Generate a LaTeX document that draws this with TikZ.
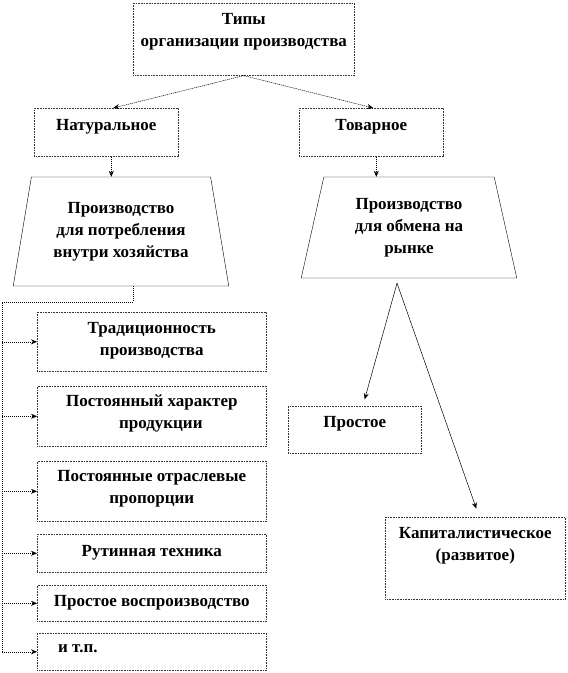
\documentclass[tikz,border=0pt]{standalone}
\usepackage{fontspec}
\setmainfont{Liberation Serif}
\usetikzlibrary{arrows.meta,positioning,calc,shapes.geometric}

\begin{document}
\begin{tikzpicture}[x=1pt, y=-1pt,
  every node/.style={font=\bfseries\fontsize{17}{22}\selectfont},
  frame/.style={draw=black!80, line width=0.6pt, dash pattern=on 1pt off 0.6pt,
    inner sep=0pt, anchor=north west},
  lbl/.style={align=center, inner sep=0pt},
  trap/.style={draw, thin, trapezium, trapezium stretches=true, align=center},
  link/.style={line width=0.5pt, dash pattern=on 1.2pt off 0.8pt,
    -{Stealth[length=6pt,width=5pt]}},
  tree/.style={line width=0.5pt, -{Stealth[length=6pt,width=5pt]}}]
  \useasboundingbox (0,0) rectangle (568,673);
  % top level
  \node[frame, minimum width=221pt, minimum height=72pt] (typy) at (133,3) {};
  \node[lbl, below=10pt of typy.north] (typy-t) {Типы\\организации производства};
  \node[frame, minimum width=144pt, minimum height=48pt] (nat) at (34,108) {};
  \node[lbl, below=11pt of nat.north] (nat-t) {Натуральное};
  \node[frame, minimum width=144pt, minimum height=48pt] (tov) at (299,108) {};
  \node[lbl, below=11pt of tov.north] (tov-t) {Товарное};
  \draw[link] (typy.south) -- ([xshift=7pt]nat.north);
  \draw[link] (typy.south) -- ([xshift=2pt]tov.north);
  % trapeziums
  \node[trap, minimum width=216pt, minimum height=109pt, trapezium angle=77.6]
    (potreb) at (121,231.5) {Производство\\для потребления\\внутри хозяйства};
  \node[trap, minimum width=216pt, minimum height=101pt, trapezium angle=76.9]
    (obmen) at (409,227.5) {Производство\\для обмена на\\рынке};
  \draw[link] ([xshift=5pt]nat.south) -- ([xshift=5pt]nat.south |- potreb.north);
  \draw[link] ([xshift=5pt]tov.south) -- ([xshift=5pt]tov.south |- obmen.north);
  % features of the natural economy
  \node[frame, minimum width=229pt, minimum height=59pt] (trad) at (37,312) {};
  \node[lbl, below=10pt of trad.north] (trad-t) {Традиционность\\производства};
  \node[frame, minimum width=229pt, minimum height=60pt] (harakt) at (37,386) {};
  \node[lbl, below=9pt of harakt.north] (harakt-t) {Постоянный характер\\\hspace*{18pt}продукции};
  \node[frame, minimum width=229pt, minimum height=60pt] (propor) at (37,461) {};
  \node[lbl, below=9pt of propor.north] (propor-t) {Постоянные отраслевые\\пропорции};
  \node[frame, minimum width=229pt, minimum height=38pt] (tehn) at (37,534) {};
  \node[lbl, below=11pt of tehn.north] (tehn-t) {Рутинная техника};
  \node[frame, minimum width=229pt, minimum height=36pt] (vosp) at (37,585) {};
  \node[lbl, below=10pt of vosp.north] (vosp-t) {Простое воспроизводство};
  \node[frame, minimum width=229pt, minimum height=37pt] (etc) at (37,633) {};
  \node[lbl, anchor=west] (etc-t) at ([xshift=21pt,yshift=3pt]etc.west) {и т.п.};
  % bracket on the left
  \coordinate (spine) at (2,302);
  \draw[line width=0.5pt, dash pattern=on 1.2pt off 0.8pt]
    ([xshift=12pt]potreb.south) |- (spine) -- (spine |- etc.west);
  \foreach \b in {trad, harakt, propor, tehn, vosp, etc}
    \draw[link] (spine |- \b.west) -- (\b.west);
  % market economy
  \node[frame, minimum width=133pt, minimum height=47pt] (prost) at (288,406) {};
  \node[lbl, below=10pt of prost.north] (prost-t) {Простое};
  \node[frame, minimum width=180pt, minimum height=82pt] (kap) at (385,517) {};
  \node[lbl, below=10pt of kap.north] (kap-t) {Капиталистическое\\(развитое)};
  \coordinate (fork) at ([xshift=-12pt,yshift=-5pt]obmen.south);
  \draw[tree, shorten >=7pt] (fork) -- ([xshift=8pt]prost.north);
  \draw[tree, shorten >=9pt] (fork) -- ([xshift=4pt]kap.north);
\end{tikzpicture}
\end{document}
